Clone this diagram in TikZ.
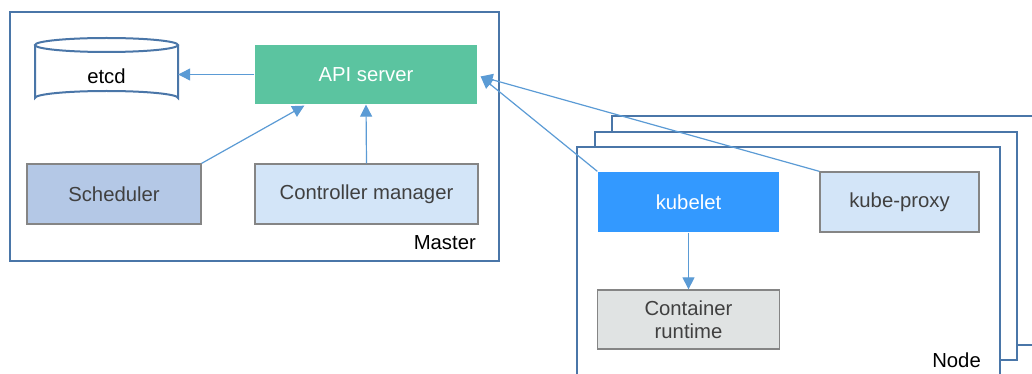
\documentclass[tikz,border=0pt]{standalone}
\usepackage{fontspec}
\setmainfont{Liberation Sans}
\usetikzlibrary{arrows.meta,calc}
\definecolor{frame}{HTML}{4A76A8}
\definecolor{arr}{HTML}{5B9BD5}
\definecolor{apig}{HTML}{5BC4A0}
\definecolor{kblue}{HTML}{3399FF}
\definecolor{schedc}{HTML}{B4C8E6}
\definecolor{lightb}{HTML}{D3E5F8}
\definecolor{crgray}{HTML}{E0E3E3}
\definecolor{txt}{HTML}{404040}
\definecolor{bord}{HTML}{858585}
\tikzset{
  box/.style={draw=bord, line width=1.3pt, minimum width=#1, minimum height=60pt, inner sep=0pt, font=\fontsize{20.3}{23.5}\selectfont, align=center},
  box/.default=175pt,
  framebox/.style={draw=frame, line width=2pt, fill=white},
  conn/.style={draw=arr, line width=1.2pt, -{Triangle[length=12pt,width=12pt]}},
  lbl/.style={font=\fontsize{20.3}{23.5}\selectfont, inner sep=0pt, anchor=south east}
}
\begin{document}
\begin{tikzpicture}[x=1pt,y=-1pt]
\useasboundingbox (0,0) rectangle (1032,374);
\clip (0,0) rectangle (1032,374);
% Master frame
\draw[framebox] (10,12) rectangle (499,261);
\node[lbl] (masterlbl) at (476,250) {Master};
% etcd cylinder
\draw[frame, line width=2pt, fill=white] (35,45) -- (35,98) arc[start angle=180, end angle=360, x radius=71.5, y radius=7] -- (178,45);
\draw[frame, line width=2pt, fill=white] (106.5,45) ellipse[x radius=71.5, y radius=7];
\node[minimum width=143pt, minimum height=60pt, inner sep=0pt, font=\fontsize{20.3}{23.5}\selectfont] (etcd) at (106.5,76) {etcd};
% API server
\node[box=222pt, draw=none, fill=apig, text=white, minimum height=59pt] (api) at (366,74.5) {API server};
\node[box=174pt, fill=schedc, text=txt] (sched) at (114,194) {Scheduler};
\node[box=223pt, fill=lightb, text=txt] (ctrl) at (366.5,194) {Controller manager};
% Node frames
\draw[framebox] (612,116) rectangle (1050,345);
\draw[framebox] (595,132) rectangle (1017,360);
\draw[framebox] (577,147) rectangle (1000,390);
\node[lbl] (nodelbl) at (981,368) {Node};
\node[box=181pt, draw=none, fill=kblue, text=white] (kubelet) at (688.5,202) {kubelet};
\node[box=159pt, fill=lightb, text=txt] (proxy) at (899.5,202) {kube-proxy};
\node[box=182pt, fill=crgray, text=txt, minimum height=59pt] (cr) at (688.5,319.5) {Container\\runtime};
% connectors
\draw[conn] (api.west) -- (etcd.east |- api.west);
\draw[conn] (sched.north east) -- ($(api.south west)+(50,1)$);
\draw[conn] (ctrl.north) -- (api.south);
\draw[conn] (kubelet.north west) -- ($(api.east)+(3,2)$);
\draw[conn] (proxy.north west) -- ($(api.east)+(3,2)$);
\draw[conn] (kubelet.south) -- (cr.north);
\end{tikzpicture}
\end{document}
